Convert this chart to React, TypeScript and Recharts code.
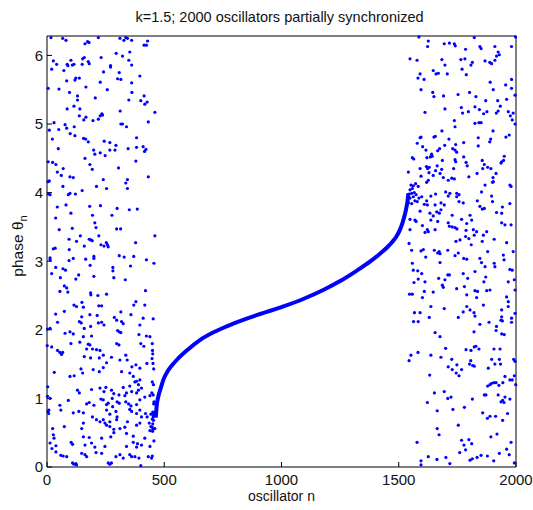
import { ScatterChart, Scatter, XAxis, YAxis } from 'recharts'

type Pt = [number, number]

// incoherent oscillators, n < ~460 (top to bottom)
const leftTop: Pt[] = [
  [17, 6.26], [67, 6.25], [81, 6.22], [162, 6.17], [173, 6.2], [179, 6.19], [219, 6.26], [311, 6.25], [328, 6.22], [336, 6.26],
  [343, 6.25], [361, 6.22], [414, 6.15], [424, 6.15], [429, 6.21], [27, 5.92], [41, 5.87], [20, 5.8], [86, 5.87], [102, 5.93],
  [108, 5.86], [115, 5.87], [89, 5.85], [152, 5.95], [159, 5.97], [150, 5.87], [176, 5.91], [180, 5.88], [231, 5.97], [295, 6.03],
  [322, 5.99], [353, 6.05], [349, 5.93], [361, 5.86], [271, 5.85], [271, 5.83], [72, 5.78], [84, 5.63], [119, 5.64], [123, 5.67],
  [138, 5.67], [166, 5.54], [227, 5.61], [241, 5.76], [308, 5.75], [301, 5.66], [315, 5.65], [361, 5.6], [396, 5.7], [5, 5.52],
  [51, 5.51], [96, 5.46], [130, 5.41], [130, 5.35], [206, 5.38], [257, 5.5], [362, 5.46], [349, 5.35], [400, 5.34], [414, 5.41],
  [417, 5.29], [427, 5.32], [86, 5.22], [115, 5.26], [140, 5.22], [166, 5.1], [138, 5.12], [157, 5.06], [196, 5.05], [219, 5.07],
  [227, 5.12], [234, 5.15], [237, 5.13], [312, 5.19], [460, 5.17], [432, 5.03], [315, 5.0], [322, 5.0], [339, 4.96], [30, 5.02],
  [10, 4.91], [50, 4.92], [77, 4.99], [84, 4.94], [116, 4.96], [99, 4.86], [119, 4.83], [23, 4.78], [156, 4.79], [165, 4.78],
  [176, 4.74], [244, 4.75], [268, 4.73], [294, 4.69], [382, 4.8], [48, 4.64], [199, 4.62], [204, 4.56], [227, 4.58], [248, 4.54],
  [268, 4.62], [290, 4.62], [346, 4.64], [382, 4.66], [410, 4.67], [422, 4.63], [416, 4.6], [162, 4.5], [5, 4.45], [24, 4.44],
  [38, 4.41], [69, 4.35], [44, 4.3], [61, 4.25], [183, 4.41], [193, 4.34], [305, 4.36], [379, 4.46], [98, 4.23], [112, 4.22],
  [240, 4.19], [343, 4.19], [432, 4.23], [4, 4.16],
]

const leftMid: Pt[] = [
  [336, 4.14], [343, 4.06], [68, 4.09], [211, 4.09], [254, 4.06], [10, 4.17], [13, 3.97], [6, 3.98], [91, 3.97], [98, 3.99],
  [121, 3.98], [150, 4.03], [44, 3.79], [81, 3.82], [102, 3.7], [182, 3.8], [194, 3.67], [228, 3.81], [277, 3.67], [299, 3.77],
  [351, 3.75], [385, 3.76], [37, 3.63], [204, 3.56], [209, 3.49], [52, 3.46], [108, 3.48], [297, 3.47], [314, 3.47], [94, 3.32],
  [126, 3.29], [142, 3.37], [159, 3.22], [180, 3.32], [187, 3.31], [193, 3.3], [221, 3.37], [230, 3.24], [243, 3.22], [253, 3.27],
  [258, 3.24], [261, 3.21], [378, 3.27], [460, 3.37], [27, 3.18], [35, 3.19], [95, 3.17], [13, 3.05], [13, 3.02], [112, 3.04],
  [94, 3.01], [165, 3.03], [200, 3.07], [200, 3.04], [308, 3.08], [329, 3.06], [370, 3.07], [424, 3.02], [456, 2.97], [37, 2.91],
  [68, 2.89], [79, 2.87], [184, 2.94], [281, 2.91], [281, 2.86], [356, 2.93], [20, 2.82], [57, 2.76], [123, 2.74], [135, 2.8],
  [200, 2.78], [285, 2.76], [334, 2.73], [74, 2.64], [84, 2.61], [55, 2.56], [89, 2.55], [186, 2.54], [187, 2.51], [217, 2.5],
  [254, 2.52], [420, 2.57], [115, 2.36], [126, 2.34], [149, 2.4], [155, 2.33], [221, 2.35], [233, 2.35], [315, 2.26], [370, 2.36],
  [379, 2.41], [417, 2.36], [37, 2.23], [74, 2.27], [148, 2.19], [183, 2.22], [214, 2.21], [287, 2.18], [358, 2.22], [410, 2.17],
  [453, 2.16],
]

const leftLow: Pt[] = [
  [45, 2.11], [13, 2.02], [2, 2.01], [138, 2.12], [146, 2.1], [219, 2.1], [233, 2.11], [243, 2.07], [297, 2.14], [318, 2.12],
  [325, 2.09], [396, 2.07], [186, 2.05], [159, 2.02], [98, 1.97], [77, 1.95], [112, 1.94], [301, 1.99], [308, 1.97], [315, 1.96],
  [392, 1.93], [424, 1.91], [155, 1.9], [190, 1.91], [1, 1.77], [20, 1.75], [45, 1.7], [55, 1.67], [62, 1.64], [67, 1.67],
  [102, 1.8], [140, 1.82], [176, 1.79], [183, 1.78], [169, 1.72], [194, 1.72], [211, 1.71], [226, 1.7], [240, 1.63], [297, 1.8],
  [307, 1.78], [336, 1.63], [439, 1.9], [449, 1.8], [400, 1.8], [413, 1.76], [159, 1.61], [186, 1.59], [223, 1.59], [254, 1.52],
  [275, 1.6], [311, 1.56], [342, 1.56], [379, 1.49], [396, 1.44], [31, 1.38], [98, 1.32], [116, 1.33], [145, 1.43], [152, 1.37],
  [197, 1.42], [223, 1.39], [240, 1.45], [318, 1.39], [353, 1.37], [362, 1.46], [426, 1.51], [368, 1.32], [382, 1.25], [390, 1.2],
  [396, 1.27], [130, 1.12], [138, 1.08], [190, 1.13], [226, 1.15], [243, 1.1], [251, 1.16], [275, 1.12], [285, 1.07], [278, 1.0],
  [325, 1.16], [353, 1.18], [375, 1.24], [307, 1.05], [332, 1.04], [339, 1.08], [361, 1.1], [382, 1.08], [390, 1.12], [403, 1.15],
  [3, 1.17], [2, 1.03], [91, 0.97], [13, 1.0], [169, 0.92], [180, 0.94], [200, 0.9], [230, 0.99], [240, 0.98], [254, 0.91],
  [261, 0.93], [299, 0.95], [308, 0.93], [336, 0.95], [348, 0.92], [358, 0.89], [382, 0.91], [396, 0.98], [417, 1.02], [439, 1.04],
  [8, 0.83], [7, 0.78], [4, 0.81], [55, 0.9], [59, 0.83], [112, 0.79], [136, 0.81], [155, 0.79], [194, 0.73], [211, 0.69],
  [226, 0.66], [254, 0.83], [268, 0.77], [280, 0.88], [294, 0.81], [299, 0.73], [353, 0.84], [361, 0.81], [382, 0.78], [396, 0.83],
  [403, 0.73], [420, 0.78], [427, 0.73], [443, 0.77], [453, 0.73], [460, 0.8], [396, 0.64], [343, 0.66], [297, 0.69], [247, 0.64],
  [240, 0.69], [254, 0.61], [268, 0.66], [24, 0.56], [74, 0.59], [148, 0.56], [155, 0.64], [268, 0.59], [285, 0.55], [311, 0.56],
  [332, 0.58], [382, 0.61], [436, 0.64], [443, 0.59], [460, 0.56], [439, 0.53], [450, 0.52], [27, 0.47], [30, 0.42], [155, 0.44],
  [180, 0.43], [233, 0.42], [272, 0.44], [285, 0.5], [339, 0.49], [368, 0.45], [417, 0.42], [13, 0.35], [38, 0.31], [103, 0.36],
  [109, 0.33], [162, 0.32], [190, 0.35], [204, 0.29], [247, 0.3], [339, 0.3], [368, 0.36], [386, 0.34], [382, 0.29], [403, 0.32],
  [439, 0.3], [21, 0.27], [38, 0.22], [59, 0.17], [69, 0.16], [84, 0.15], [109, 0.06], [115, 0.04], [123, 0.05], [126, 0.03],
  [148, 0.2], [162, 0.18], [169, 0.15], [209, 0.21], [233, 0.2], [261, 0.06], [268, 0.04], [275, 0.06], [294, 0.15], [311, 0.18],
  [325, 0.13], [353, 0.18], [361, 0.15], [375, 0.15], [392, 0.13], [400, 0.02], [432, 0.15], [446, 0.13],
]

// the crowd of drifting oscillators just left of where the locked branch starts
const leftEdge: Pt[] = [
  [450, 1.7], [451, 1.65], [448, 1.58], [452, 1.51], [455, 1.43], [449, 1.24], [454, 1.2], [447, 1.08], [453, 1.05], [456, 0.95],
  [455, 0.92], [451, 0.8], [452, 0.77], [456, 0.75], [449, 0.7], [454, 0.68], [451, 0.63], [449, 0.58], [452, 0.55], [456, 0.38],
  [449, 0.16],
]

// incoherent oscillators, n > ~1540
const rightTop: Pt[] = [
  [1586, 6.27], [1626, 6.21], [1623, 6.13], [1694, 6.17], [1716, 6.18], [1737, 6.17], [1741, 6.14], [1822, 6.26], [1846, 6.13], [1851, 6.1],
  [1910, 6.13], [1924, 6.05], [1929, 6.01], [1981, 6.13], [1998, 6.27], [1785, 6.09], [1548, 5.95], [1578, 5.93], [1684, 5.94], [1697, 5.86],
  [1765, 5.94], [1782, 5.95], [1808, 5.86], [1814, 5.9], [1868, 5.92], [1888, 5.9], [1896, 5.88], [1910, 5.93], [1917, 5.99], [1669, 5.74],
  [1659, 5.73], [1707, 5.73], [1647, 5.78], [1770, 5.8], [1788, 5.72], [1591, 5.73], [1582, 5.67], [1608, 5.65], [1595, 5.5], [1645, 5.46],
  [1650, 5.4], [1691, 5.41], [1753, 5.43], [1802, 5.46], [1829, 5.4], [1890, 5.61], [1903, 5.5], [1956, 5.57], [1981, 5.65], [1981, 5.52],
  [1996, 5.42], [1871, 5.34], [1922, 5.34], [1933, 5.26], [1960, 5.36], [1825, 5.25], [1797, 5.18], [1772, 5.16], [1767, 5.24], [1844, 5.21],
  [1862, 5.15], [1876, 5.18], [1916, 5.16], [1924, 5.19], [1697, 5.22], [1612, 5.17], [1967, 5.18], [1988, 5.16], [1976, 5.12], [1984, 5.06],
  [1737, 5.05], [1740, 4.96], [1825, 5.01], [1842, 5.02], [1851, 5.02], [1996, 5.0], [1684, 4.9], [1902, 4.9], [1957, 4.81], [1971, 4.84],
  [1591, 4.8], [1595, 4.81], [1579, 4.72], [1650, 4.81], [1656, 4.82], [1714, 4.78], [1839, 4.8], [1839, 4.68], [1892, 4.78], [1888, 4.74],
  [1743, 4.7], [1777, 4.73], [1602, 4.67], [1616, 4.62], [1640, 4.56], [1643, 4.53], [1635, 4.52], [1666, 4.61], [1674, 4.64], [1696, 4.69],
  [1730, 4.64], [1740, 4.62], [1747, 4.59], [1777, 4.52], [1558, 4.51], [1564, 4.49], [1620, 4.51], [1686, 4.47], [1740, 4.48], [1743, 4.45],
  [1787, 4.44], [1792, 4.39], [1856, 4.47], [1865, 4.41], [1939, 4.45], [1950, 4.53], [1947, 4.47], [1936, 4.43], [1541, 4.3], [1591, 4.35],
  [1595, 4.24], [1618, 4.38], [1623, 4.35], [1630, 4.37], [1629, 4.29], [1664, 4.39], [1657, 4.32], [1683, 4.34], [1734, 4.35], [1690, 4.22],
  [1726, 4.21], [1737, 4.2], [1799, 4.23], [1858, 4.35], [1879, 4.37], [1893, 4.35], [1915, 4.28], [1647, 4.25], [1676, 4.28], [1834, 4.28],
  [1902, 4.22],
]

const rightMid: Pt[] = [
  [1552, 4.11], [1562, 4.1], [1558, 4.06], [1548, 4.04], [1572, 4.13], [1583, 4.09], [1544, 3.98], [1555, 3.99], [1566, 4.0], [1574, 3.97],
  [1548, 3.92], [1562, 3.94], [1569, 3.88], [1579, 3.87], [1586, 3.92], [1598, 3.94], [1541, 3.85], [1555, 3.84], [1619, 4.15], [1626, 4.18],
  [1711, 4.18], [1700, 4.01], [1718, 3.99], [1711, 3.95], [1747, 3.99], [1757, 3.97], [1757, 3.87], [1747, 3.94], [1775, 3.85], [1657, 3.98],
  [1637, 3.95], [1619, 3.88], [1609, 3.83], [1622, 3.82], [1655, 3.82], [1680, 3.85], [1694, 3.82], [1853, 4.01], [1835, 3.88], [1868, 4.11],
  [1896, 3.95], [1900, 3.87], [1846, 3.8], [1865, 3.77], [1856, 3.76], [1942, 3.79], [1939, 3.7], [1917, 3.71], [1974, 3.84], [1903, 4.16],
  [1900, 4.15], [1979, 4.09], [1974, 4.11], [1591, 3.73], [1633, 3.7], [1647, 3.66], [1662, 3.72], [1673, 3.7], [1680, 3.75], [1637, 3.6],
  [1666, 3.58], [1728, 3.67], [1804, 3.67], [1811, 3.6], [1569, 3.6], [1574, 3.58], [1548, 3.61], [1601, 3.52], [1626, 3.43], [1622, 3.46],
  [1612, 3.42], [1655, 3.46], [1711, 3.56], [1716, 3.51], [1728, 3.5], [1740, 3.49], [1748, 3.47], [1768, 3.61], [1790, 3.55], [1787, 3.45],
  [1818, 3.46], [1832, 3.43], [1822, 3.38], [1799, 3.33], [1785, 3.36], [1761, 3.31], [1744, 3.29], [1861, 3.38], [1856, 3.29], [1875, 3.43],
  [1907, 3.32], [1939, 3.56], [1953, 3.53], [1979, 3.53], [1548, 3.46], [1544, 3.26], [1555, 3.16], [1595, 3.15], [1605, 3.17], [1615, 3.06],
  [1652, 3.16], [1666, 3.12], [1676, 3.11], [1672, 3.14], [1709, 3.16], [1754, 3.12], [1740, 3.08], [1777, 3.04], [1790, 3.03], [1809, 3.24],
  [1846, 3.04], [1853, 2.98], [1879, 3.14], [1960, 3.27], [1946, 3.09], [1949, 3.02], [1988, 3.14], [1558, 2.97], [1562, 2.87], [1581, 2.86],
  [1598, 2.82], [1583, 2.74], [1612, 2.7], [1676, 2.98], [1670, 2.75], [1709, 2.8], [1716, 2.8], [1697, 2.73], [1686, 2.65], [1690, 2.62],
  [1775, 2.82], [1794, 2.75], [1780, 2.63], [1825, 2.85], [1868, 2.92], [1871, 2.77], [1863, 2.7], [1907, 2.97], [1910, 2.92], [1974, 2.88],
  [1984, 2.87], [1967, 2.7], [1993, 2.73], [1996, 2.58], [1558, 2.52], [1601, 2.47], [1609, 2.56], [1647, 2.55], [1747, 2.6], [1790, 2.51],
  [1825, 2.57], [1836, 2.56], [1832, 2.47], [1875, 2.57], [1889, 2.58], [1960, 2.48], [1967, 2.41], [1591, 2.25], [1630, 2.18], [1637, 2.34],
  [1694, 2.31], [1754, 2.18], [1775, 2.26], [1790, 2.34], [1804, 2.29], [1821, 2.25], [1825, 2.2], [1861, 2.36], [1939, 2.29], [1967, 2.34],
  [1996, 2.24], [1939, 2.19], [1981, 2.17], [1546, 2.52], [1565, 2.69], [1567, 2.25], [1563, 2.12],
]

const rightLow: Pt[] = [
  [1583, 2.12], [1846, 2.08], [1885, 2.11], [1917, 2.05], [1915, 1.99], [1936, 2.14], [1942, 2.13], [1981, 2.11], [1939, 1.94], [1950, 1.93],
  [1655, 1.96], [1676, 1.9], [1821, 1.97], [1700, 1.73], [1787, 1.71], [1808, 1.7], [1822, 1.75], [1829, 1.76], [1842, 1.72], [1906, 1.72],
  [1932, 1.72], [1552, 1.63], [1582, 1.67], [1544, 1.55], [1637, 1.63], [1680, 1.6], [1726, 1.57], [1711, 1.46], [1728, 1.42], [1748, 1.49],
  [1745, 1.37], [1757, 1.33], [1768, 1.42], [1802, 1.5], [1807, 1.55], [1815, 1.48], [1822, 1.47], [1882, 1.44], [1896, 1.57], [1910, 1.5],
  [1929, 1.57], [1934, 1.5], [1990, 1.57], [1996, 1.54], [1632, 1.34], [1953, 1.32], [1974, 1.27], [1984, 1.27], [1993, 1.33], [1999, 1.2],
  [1879, 1.18], [1889, 1.2], [1896, 1.22], [1906, 1.23], [1915, 1.23], [1927, 1.19], [1944, 1.23], [1652, 1.08], [1694, 1.1], [1709, 1.0],
  [1723, 1.02], [1814, 0.99], [1865, 1.05], [1872, 1.05], [1924, 1.05], [1953, 1.02], [1936, 0.95], [1943, 0.97], [1949, 0.94], [1974, 0.99],
  [1622, 0.94], [1664, 0.82], [1731, 0.84], [1780, 0.87], [1858, 0.79], [1878, 0.71], [1889, 0.74], [1913, 0.74], [1943, 0.68], [1964, 0.78],
  [1664, 0.56], [1672, 0.47], [1754, 0.61], [1893, 0.44], [1919, 0.48], [1578, 0.36], [1768, 0.39], [1778, 0.32], [1799, 0.4], [1811, 0.34],
  [1785, 0.25], [1760, 0.21], [1979, 0.36], [1960, 0.26], [1971, 0.18], [1929, 0.2], [1626, 0.15], [1663, 0.11], [1701, 0.14], [1718, 0.05],
  [1804, 0.1], [1814, 0.12], [1834, 0.14], [1851, 0.17], [1878, 0.16], [1905, 0.09], [1993, 0.06], [1595, 0.09], [1595, 0.03],
]

// phase-locked oscillators, sampled along the thick branch
const lockedBranch: Pt[] = [
  [464, 0.72], [468, 0.9], [475, 1.03], [485, 1.15], [496, 1.27], [515, 1.4], [535, 1.49], [553, 1.56], [600, 1.71], [652, 1.85],
  [720, 1.98], [794, 2.09], [900, 2.22], [1008, 2.34], [1100, 2.46], [1178, 2.58], [1250, 2.71], [1320, 2.86], [1380, 3.0], [1420, 3.11],
  [1450, 3.2], [1472, 3.28], [1490, 3.36], [1504, 3.45], [1516, 3.56], [1526, 3.68], [1533, 3.79], [1538, 3.89], [1541, 3.99],
]

const xTicks = [0, 500, 1000, 1500, 2000]
const yTicks = [0, 1, 2, 3, 4, 5, 6]

const BLUE = '#0000ff'
const FONT = 'Arial, "Liberation Sans", Helvetica, sans-serif'

const toPts = (a: Pt[]) => a.map(([n, theta]) => ({ n, theta }))
const scattered = toPts([...leftTop, ...leftMid, ...leftLow, ...leftEdge, ...rightTop, ...rightMid, ...rightLow])
const locked = toPts(lockedBranch)

const Dot = (props: any) => <circle cx={props.cx} cy={props.cy} r={1.6} fill={BLUE} />
const NoDot = () => <g />

const tickStyle = { fontSize: 15, fill: '#111', fontFamily: FONT }

export default function App() {
  return (
    <div style={{ position: 'absolute', left: 0, top: 0, width: 533, height: 510, background: '#fff', fontFamily: FONT }}>
      <ScatterChart width={533} height={510} margin={{ top: 6, right: 0, bottom: 0, left: 0 }}>
        <XAxis
          dataKey="n"
          type="number"
          domain={[0, 2000]}
          ticks={xTicks}
          height={43}
          tickSize={-5}
          tickMargin={12}
          tick={tickStyle}
          stroke="#000"
          axisLine={{ stroke: '#000' }}
          tickLine={{ stroke: '#000' }}
        />
        <XAxis
          xAxisId="top"
          orientation="top"
          type="number"
          domain={[0, 2000]}
          ticks={xTicks}
          height={30}
          tickSize={-5}
          tick={false}
          axisLine={{ stroke: '#000' }}
          tickLine={{ stroke: '#000' }}
        />
        <YAxis
          dataKey="theta"
          type="number"
          domain={[0, 2 * Math.PI]}
          ticks={yTicks}
          width={47}
          tickSize={-5}
          tickMargin={9}
          tick={tickStyle}
          axisLine={{ stroke: '#000' }}
          tickLine={{ stroke: '#000' }}
        />
        <YAxis
          yAxisId="right"
          orientation="right"
          type="number"
          domain={[0, 2 * Math.PI]}
          ticks={yTicks}
          width={17}
          tickSize={-5}
          tick={false}
          axisLine={{ stroke: '#000' }}
          tickLine={{ stroke: '#000' }}
        />
        <Scatter data={scattered} shape={Dot} isAnimationActive={false} />
        <Scatter
          data={locked}
          shape={NoDot}
          line={{ stroke: BLUE, strokeWidth: 4 }}
          lineJointType="monotoneX"
          isAnimationActive={false}
        />
      </ScatterChart>
      <div style={{ position: 'absolute', left: 45, width: 469, top: 8, textAlign: 'center', fontSize: 14.5, lineHeight: '18px', color: '#111' }}>
        k=1.5; 2000 oscillators partially synchronized
      </div>
      <div style={{ position: 'absolute', left: 47, width: 469, top: 487, textAlign: 'center', fontSize: 14, lineHeight: '18px', color: '#111' }}>
        oscillator n
      </div>
      <div
        style={{
          position: 'absolute', left: 18 - 100, top: 246 - 10, width: 200, height: 20, lineHeight: '20px',
          textAlign: 'center', fontSize: 15.5, color: '#111', transform: 'rotate(-90deg)',
        }}
      >
        phase θ<sub style={{ fontSize: 11, verticalAlign: 'sub' }}>n</sub>
      </div>
    </div>
  )
}
